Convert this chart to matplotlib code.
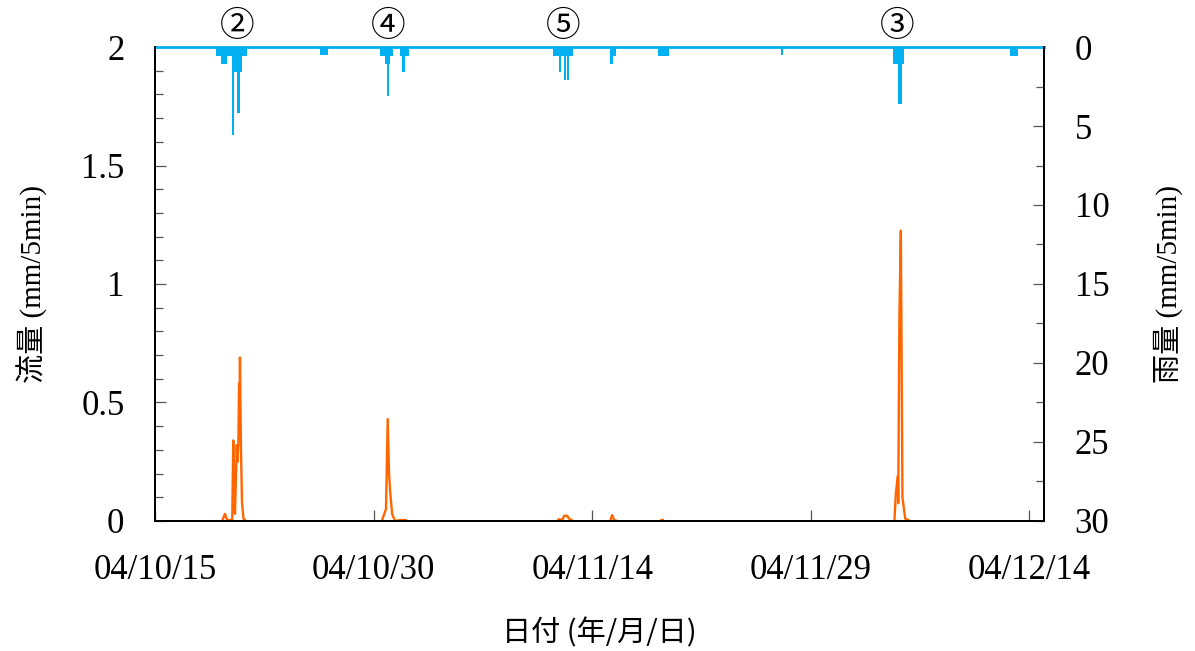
import numpy as np
import matplotlib
matplotlib.use('Agg')
import matplotlib.pyplot as plt
from matplotlib.ticker import MultipleLocator, FormatStrFormatter

# 経過日数 (2004/10/15 0:00 起点) と流量 (mm/5min)、イベント間は nan で区切る
flow_days = [4.60, 4.70, 4.80, 4.91, 5.01, 5.30, 5.37, 5.45, 5.49, 5.61, 5.66, 5.72,
             5.77, 5.80, 5.83, 5.90, 5.97, 6.07, 6.25, np.nan,
             15.56, 15.85, 15.97, 16.06, 16.13, 16.27, 16.47, 16.8, 17.2, np.nan,
             27.59, 27.73, 27.86, 28.00, 28.07, 28.28, 28.41, 28.69, np.nan,
             31.23, 31.37, 31.50, 31.70, np.nan,
             34.75, 34.85, np.nan,
             50.74, 50.84, 50.98, 51.00, 51.08, 51.18, 51.29, 51.48, 51.82]
flow_vals = [0, 0.015, 0.03, 0.01, 0.003, 0.005, 0.34, 0.05, 0.03, 0.32, 0.25, 0.32,
             0.58, 0.40, 0.69, 0.30, 0.08, 0.01, 0, np.nan,
             0, 0.05, 0.43, 0.20, 0.13, 0.03, 0, 0.004, 0.004, np.nan,
             0, 0.008, 0.004, 0.01, 0.022, 0.022, 0.01, 0, np.nan,
             0, 0.025, 0.005, 0, np.nan,
             0.004, 0.004, np.nan,
             0, 0.12, 0.19, 0.075, 0.86, 1.225, 0.10, 0.01, 0]

# 雨量 (mm/5min): 開始日, 終了日, 値
rain_start = [4.19, 4.53, 5.26, 5.28, 5.63, 11.30, 15.45, 15.80, 15.90, 16.80, 16.98,
              27.30, 27.73, 28.06, 28.28, 31.20, 31.20, 34.50, 42.98, 50.65, 50.98, 58.70]
rain_end = [6.29, 4.92, 5.95, 5.44, 5.80, 11.85, 16.30, 16.10, 16.06, 17.45, 17.14,
            28.70, 27.87, 28.18, 28.40, 31.60, 31.40, 35.30, 43.10, 51.40, 51.25, 59.20]
rain_mm = [0.6, 1.1, 1.6, 5.6, 4.2, 0.5, 0.6, 1.1, 3.1, 0.6, 1.6,
           0.6, 1.6, 2.1, 2.1, 0.6, 1.1, 0.6, 0.5, 1.1, 3.6, 0.6]

# イベント番号
event_days = [5.63, 16.0, 28.0, 50.9]
event_marks = ['②', '④', '⑤', '③']

date_ticks = [0, 15, 30, 45, 60]
date_labels = ['04/10/15', '04/10/30', '04/11/14', '04/11/29', '04/12/14']

serif = ['Liberation Serif', 'Noto Sans CJK JP']
gothic = ['Noto Sans CJK JP', 'DejaVu Sans']
blue = '#00B0F0'
orange = '#FF6600'

fig = plt.figure(figsize=(11.95, 6.51), dpi=100)
ax = fig.add_axes([0.1297, 0.1997, 0.7439, 0.7281])
ax2 = ax.twinx()

ax.plot(flow_days, flow_vals, color=orange, lw=1.7)
ax.set_xlim(0, 61)
ax.set_ylim(0, 2)
ax.set_xticks(date_ticks)
ax.set_xticklabels(date_labels)
ax.yaxis.set_major_locator(MultipleLocator(0.5))
ax.yaxis.set_minor_locator(MultipleLocator(0.1))
ax.yaxis.set_major_formatter(FormatStrFormatter('%g'))

widths = [e - s for s, e in zip(rain_start, rain_end)]
ax2.bar(rain_start, rain_mm, width=widths, align='edge', color=blue, lw=0)
ax2.axhline(0, color=blue, lw=2, clip_on=False)
ax2.set_ylim(30, 0)
ax2.yaxis.set_major_locator(MultipleLocator(5))
ax2.yaxis.set_minor_locator(MultipleLocator(2.5))

for a in (ax, ax2):
    a.spines['top'].set_visible(False)
    for s in ('left', 'right', 'bottom'):
        a.spines[s].set_linewidth(1.3)
    a.tick_params(which='major', direction='in', length=8, width=0.9, color='#555555',
                  labelsize=25, pad=22)
    a.tick_params(which='minor', direction='in', length=5.5, width=0.9, color='#555555')
    for lab in a.get_xticklabels() + a.get_yticklabels():
        lab.set_family(serif)
ax.tick_params(axis='x', pad=24, top=False)
ax2.tick_params(axis='y', pad=22)

ax.set_ylabel('流量 (mm/5min)', family=serif, fontsize=21, labelpad=24)
ax2.set_ylabel('雨量 (mm/5min)', family=serif, fontsize=21, labelpad=32)
ax.set_xlabel('日付 (年/月/日)', family=gothic, fontsize=21, labelpad=22)

for d, m in zip(event_days, event_marks):
    ax.text(d, 2.012, m, ha='center', va='bottom', family=gothic, fontsize=25)

fig.savefig('out.png', dpi=100)
